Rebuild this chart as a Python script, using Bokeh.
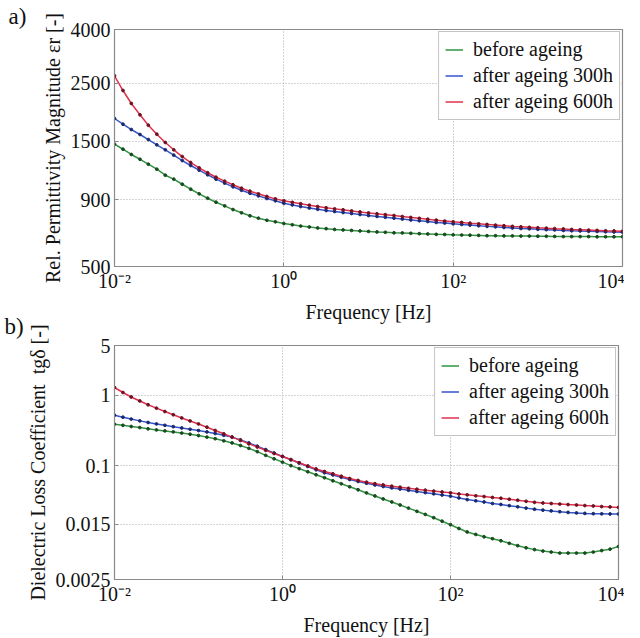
from bokeh.plotting import figure
from bokeh.models import Range1d, FixedTicker, NumeralTickFormatter, Legend, LegendItem
from bokeh.layouts import column
from bokeh.embed import file_html
from bokeh.resources import INLINE

FONT = "Liberation Serif"

freq = [0.01, 0.0126, 0.0158, 0.02, 0.0251, 0.0316, 0.0398, 0.0501, 0.0631, 0.0794,
        0.1, 0.126, 0.158, 0.2, 0.251, 0.316, 0.398, 0.501, 0.631, 0.794,
        1, 1.26, 1.58, 2, 2.51, 3.16, 3.98, 5.01, 6.31, 7.94,
        10, 12.6, 15.8, 20, 25.1, 31.6, 39.8, 50.1, 63.1, 79.4,
        100, 126, 158, 200, 251, 316, 398, 501, 631, 794,
        1000, 1260, 1580, 2000, 2510, 3160, 3980, 5010, 6310, 7940, 10000]

eps_before = [1462, 1399, 1336, 1281, 1227, 1174, 1114, 1076, 1029, 985,
              946, 910, 879, 851, 824, 801, 780, 764, 750, 740,
              729, 721, 713, 707, 701, 697, 692, 689, 686, 683,
              680, 677, 675, 672, 671, 669, 667, 665, 663, 662,
              660, 659, 658, 657, 655, 655, 654, 654, 653, 653,
              652, 652, 651, 650, 650, 650, 650, 649, 649, 649, 649]
eps_300h = [1832, 1742, 1663, 1592, 1523, 1454, 1392, 1328, 1267, 1213,
            1164, 1118, 1076, 1039, 1006, 976, 951, 929, 908, 890,
            871, 858, 846, 835, 826, 817, 810, 803, 796, 789,
            782, 776, 770, 764, 758, 752, 747, 742, 736, 732,
            727, 723, 719, 715, 711, 708, 704, 701, 698, 696,
            693, 691, 689, 686, 684, 683, 681, 680, 678, 677, 676]
eps_600h = [2664, 2342, 2090, 1892, 1727, 1596, 1484, 1392, 1312, 1245,
            1188, 1138, 1094, 1057, 1024, 994, 968, 946, 924, 905,
            890, 878, 867, 856, 846, 837, 829, 822, 814, 807,
            800, 794, 788, 782, 775, 769, 763, 757, 751, 745,
            740, 736, 731, 727, 723, 719, 715, 711, 708, 705,
            702, 700, 697, 695, 692, 690, 688, 686, 684, 683, 681]

tg_before = [0.388, 0.374, 0.360, 0.348, 0.334, 0.322, 0.312, 0.302, 0.291, 0.280,
             0.268, 0.255, 0.242, 0.226, 0.211, 0.194, 0.177, 0.159, 0.141, 0.126,
             0.113, 0.101, 0.0915, 0.0827, 0.0750, 0.0681, 0.0617, 0.0560, 0.0508, 0.0461,
             0.0416, 0.0377, 0.0342, 0.0310, 0.0281, 0.0254, 0.0229, 0.0207, 0.0186, 0.0166,
             0.0148, 0.0131, 0.0117, 0.0108, 0.0100, 0.0094, 0.0088, 0.0081, 0.0075, 0.0070,
             0.0066, 0.0063, 0.0061, 0.0059, 0.0059, 0.0059, 0.0059, 0.0061, 0.0064, 0.0067, 0.0073]
tg_300h = [0.520, 0.487, 0.458, 0.432, 0.410, 0.391, 0.374, 0.358, 0.343, 0.329,
           0.316, 0.302, 0.287, 0.271, 0.255, 0.233, 0.211, 0.190, 0.170, 0.152,
           0.136, 0.122, 0.110, 0.0983, 0.0883, 0.0801, 0.0746, 0.0692, 0.0644, 0.0604,
           0.0569, 0.0539, 0.0513, 0.0490, 0.0472, 0.0454, 0.0436, 0.0420, 0.0404, 0.0389,
           0.0375, 0.0354, 0.0335, 0.0322, 0.0310, 0.0295, 0.0286, 0.0275, 0.0265, 0.0254,
           0.0245, 0.0238, 0.0232, 0.0226, 0.0221, 0.0217, 0.0214, 0.0212, 0.0211, 0.0210, 0.0210]
tg_600h = [1.278, 1.087, 0.939, 0.825, 0.729, 0.653, 0.586, 0.527, 0.475, 0.431,
           0.391, 0.352, 0.316, 0.284, 0.255, 0.229, 0.205, 0.185, 0.166, 0.150,
           0.136, 0.123, 0.111, 0.0999, 0.0906, 0.0835, 0.0775, 0.0715, 0.0665, 0.0624,
           0.0590, 0.0562, 0.0539, 0.0518, 0.0500, 0.0484, 0.0469, 0.0455, 0.0442, 0.0429,
           0.0418, 0.0402, 0.0391, 0.0379, 0.0370, 0.0359, 0.0350, 0.0339, 0.0328, 0.0317,
           0.0307, 0.0300, 0.0295, 0.0290, 0.0285, 0.0281, 0.0276, 0.0272, 0.0267, 0.0264, 0.0260]

series_names = ["before ageing", "after ageing 300h", "after ageing 600h"]
line_colors = ["#2f9440", "#3455d1", "#e2304c"]
dot_colors = ["#1d4a22", "#1c2a6a", "#6a1424"]

x_ticks = [0.01, 1, 100, 10000]
x_tick_labels = {0.01: "10⁻²", 1: "10⁰", 100: "10²", 10000: "10⁴"}
eps_ticks = [500, 900, 1500, 2500, 4000]
tg_ticks = [0.0025, 0.015, 0.1, 1, 5]

GRAY = "#8a8a8a"


def make_panel(series, yr, yticks, yfmt, ylabel, letter, left, top, bottom, fw, fh, title_standoff):
    p = figure(x_axis_type="log", y_axis_type="log",
               x_range=Range1d(0.01, 10000), y_range=Range1d(*yr),
               frame_width=fw, frame_height=fh,
               min_border_left=left, min_border_right=6,
               min_border_top=top, min_border_bottom=bottom,
               output_backend="svg", toolbar_location=None,
               title=letter)
    p.background_fill_color = "white"
    p.border_fill_color = None
    p.outline_line_color = GRAY
    p.outline_line_width = 1.2
    p.title.text_font = FONT
    p.title.text_font_size = "23px"
    p.title.text_font_style = "normal"
    p.title.align = "left"
    p.title.offset = -(left - 4)
    p.title.standoff = title_standoff
    p.title.text_color = "#111111"

    p.xaxis.ticker = FixedTicker(ticks=x_ticks, minor_ticks=[])
    p.xaxis.major_label_overrides = x_tick_labels
    p.yaxis.ticker = FixedTicker(ticks=yticks, minor_ticks=[])
    p.yaxis.formatter = NumeralTickFormatter(format=yfmt)
    for ax in (p.xaxis, p.yaxis):
        ax.axis_line_color = GRAY
        ax.major_tick_in = 4
        ax.major_tick_out = 0
        ax.minor_tick_in = 0
        ax.minor_tick_out = 0
        ax.major_tick_line_color = GRAY
        ax.major_label_text_font = FONT
        ax.major_label_text_font_size = "20px"
        ax.major_label_text_color = "#111111"
        ax.axis_label_text_font = FONT
        ax.axis_label_text_font_size = "20px"
        ax.axis_label_text_font_style = "normal"
        ax.axis_label_text_color = "#111111"
    p.xaxis.major_label_standoff = 3
    p.xaxis.axis_label_standoff = 6
    p.yaxis.major_label_standoff = 4
    p.yaxis.axis_label_standoff = 4
    p.xaxis.axis_label = "Frequency [Hz]"
    p.yaxis.axis_label = ylabel
    for g in (p.xgrid, p.ygrid):
        g.grid_line_color = "#a8a8a8"
        g.grid_line_dash = "1 2"
        g.grid_line_width = 1

    items = []
    for vals, name, lc, dc in zip(series, series_names, line_colors, dot_colors):
        r = p.line(freq, vals, line_color=lc, line_width=1.5)
        p.scatter(freq, vals, size=2.8, fill_color=dc, line_color=dc)
        items.append(LegendItem(label=name, renderers=[r]))
    leg = Legend(items=items, location="top_right")
    leg.label_text_font = FONT
    leg.label_text_font_size = "20px"
    leg.label_text_color = "#111111"
    leg.border_line_color = GRAY
    leg.border_line_width = 1
    leg.background_fill_color = "white"
    leg.background_fill_alpha = 1
    leg.glyph_width = 18
    leg.glyph_height = 21
    leg.label_height = 21
    leg.label_standoff = 10
    leg.spacing = 3
    leg.padding = 6
    leg.margin = 2
    p.add_layout(leg)
    return p


p1 = make_panel([eps_before, eps_300h, eps_600h], (500, 4000), eps_ticks, "0",
                "Rel. Permittivity Magnitude εr [-]", "a)",
                left=110, top=29, bottom=64, fw=508, fh=237, title_standoff=2)
p2 = make_panel([tg_before, tg_300h, tg_600h], (0.0025, 5), tg_ticks, "0[.][0000]",
                "Dielectric Loss Coefficient\u00a0 tgδ [-]", "b)",
                left=114, top=53, bottom=50, fw=504, fh=234, title_standoff=14)
p2.margin = (-38, 0, -18, 0)

layout = column(p1, p2, spacing=0)
open("out.html", "w").write(file_html(layout, INLINE))
